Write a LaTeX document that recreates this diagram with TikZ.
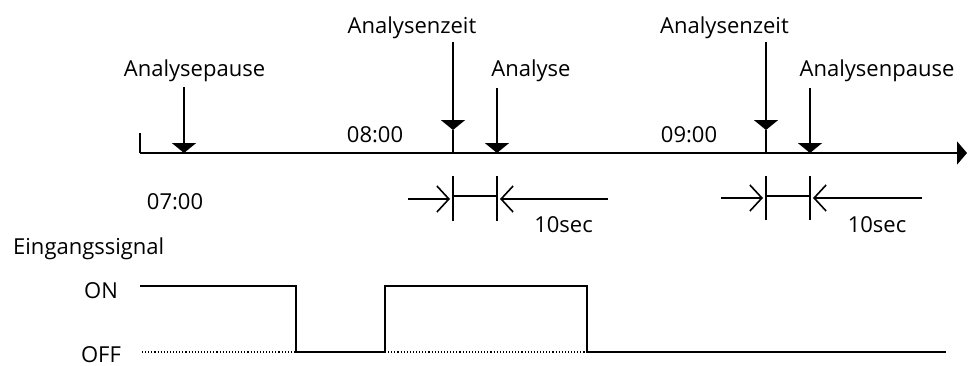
\documentclass[tikz,border=0pt]{standalone}
\usepackage{fontspec}
\setmainfont{Open Sans}
\usetikzlibrary{arrows.meta}
\begin{document}
\begin{tikzpicture}[x=1pt,y=-1pt,
  lbl/.style={inner sep=0pt,anchor=base,font=\fontsize{22}{26}\selectfont},
  lblw/.style={lbl,anchor=base west},
  downarr/.style={line width=2pt,-{Triangle[width=24pt,length=10pt]}},
  axisline/.style={line width=2pt,-{Triangle[width=23pt,length=10pt]}},
  tickline/.style={line width=1.1pt},
  dimarr/.style={line width=1.6pt,-{Straight Barb[width=26pt,length=12pt]}},
  sig/.style={line width=1.6pt},
  dots/.style={line width=1.1pt,dotted}]
\useasboundingbox (0,0) rectangle (970,365);

% time axis
\coordinate (axs) at (140,153);
\coordinate (axe) at (967,153);
\coordinate (axt) at (140,133);
\draw[axisline] (axs) -- (axe);
\draw[tickline] (axt) -- (axs);

% labels above
\node[lbl] (lpause1) at (194.5,76) {Analysepause};
\node[lbl] (lzeit1) at (412,33) {Analysenzeit};
\node[lbl] (lana) at (531,76) {Analyse};
\node[lbl] (lzeit2) at (724.5,33) {Analysenzeit};
\node[lbl] (lpause2) at (877,76) {Analysenpause};
\node[lbl] (t8) at (375,142) {08:00};
\node[lbl] (t9) at (689,142) {09:00};
\node[lbl] (t7) at (175,209) {07:00};

% arrows
\coordinate (a1s) at (184,87);  \coordinate (a1e) at (184,153);
\coordinate (a2s) at (453,42);  \coordinate (a2e) at (453,130); \coordinate (a2b) at (453,153);
\coordinate (a3s) at (497,88);  \coordinate (a3e) at (497,153);
\coordinate (a4s) at (766,42);  \coordinate (a4e) at (766,130); \coordinate (a4b) at (766,153);
\coordinate (a5s) at (810,88);  \coordinate (a5e) at (810,153);
\draw[downarr] (a1s) -- (a1e);
\draw[downarr] (a2s) -- (a2e);
\draw[tickline] (a2e) -- (a2b);
\draw[downarr] (a3s) -- (a3e);
\draw[downarr] (a4s) -- (a4e);
\draw[tickline] (a4e) -- (a4b);
\draw[downarr] (a5s) -- (a5e);

% dimension 1
\coordinate (d1at) at (453,176); \coordinate (d1ab) at (453,221);
\coordinate (d1bt) at (497,176); \coordinate (d1bb) at (497,221);
\coordinate (d1m1) at (453,196); \coordinate (d1m2) at (497,196);
\coordinate (d1ls) at (408,199); \coordinate (d1le) at (450,199);
\coordinate (d1rs) at (608,199); \coordinate (d1re) at (500,199);
\draw[tickline] (d1at) -- (d1ab);
\draw[tickline] (d1bt) -- (d1bb);
\draw[tickline] (d1m1) -- (d1m2);
\draw[dimarr] (d1ls) -- (d1le);
\draw[dimarr] (d1rs) -- (d1re);
\node[lbl] (s1) at (563.5,232) {10sec};

% dimension 2
\coordinate (d2at) at (766,176); \coordinate (d2ab) at (766,220);
\coordinate (d2bt) at (810,176); \coordinate (d2bb) at (810,220);
\coordinate (d2m1) at (766,196); \coordinate (d2m2) at (810,196);
\coordinate (d2ls) at (721,198); \coordinate (d2le) at (763,198);
\coordinate (d2rs) at (922,198); \coordinate (d2re) at (813,198);
\draw[tickline] (d2at) -- (d2ab);
\draw[tickline] (d2bt) -- (d2bb);
\draw[tickline] (d2m1) -- (d2m2);
\draw[dimarr] (d2ls) -- (d2le);
\draw[dimarr] (d2rs) -- (d2re);
\node[lbl] (s2) at (877,232) {10sec};

% input signal
\node[lblw] (ein) at (13,254) {Eingangssignal};
\node[lbl] (on) at (101,298) {ON};
\node[lbl] (off) at (101,362) {OFF};
\coordinate (g0) at (140,286);
\coordinate (g1) at (296,286);
\coordinate (g2) at (296,352);
\coordinate (g3) at (385,352);
\coordinate (g4) at (385,286);
\coordinate (g5) at (587,286);
\coordinate (g6) at (587,352);
\coordinate (g7) at (946,352);
\coordinate (o0) at (142,352);
\draw[dots] (o0) -- (g2);
\draw[dots] (g3) -- (g6);
\draw[sig] (g0) -- (g1) -- (g2) -- (g3) -- (g4) -- (g5) -- (g6) -- (g7);
\end{tikzpicture}
\end{document}
